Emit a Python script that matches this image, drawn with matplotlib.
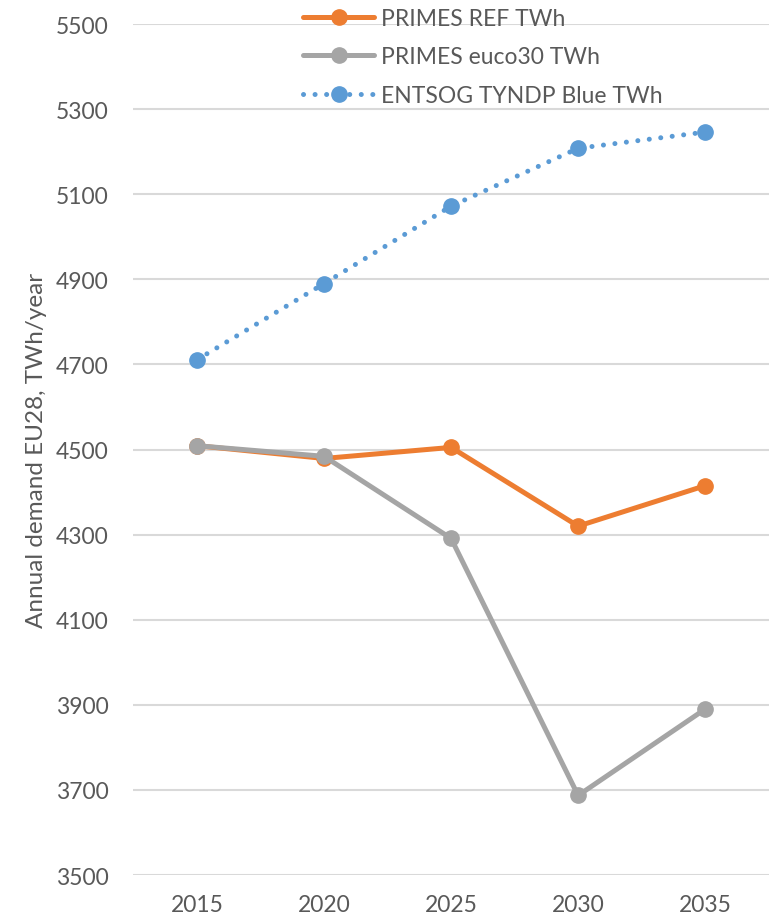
import matplotlib.pyplot as plt

years = ['2015', '2020', '2025', '2030', '2035']
primes_ref = [4509, 4479, 4505, 4320, 4415]
primes_euco30 = [4509, 4484, 4291, 3687, 3890]
entsog_blue = [4711, 4890, 5072, 5208, 5246]

labels = ['PRIMES REF TWh', 'PRIMES euco30 TWh', 'ENTSOG TYNDP Blue TWh']

TEXT = '#595959'
plt.rcParams['font.family'] = ['Lato', 'DejaVu Sans']

fig = plt.figure(figsize=(7.69, 9.2), dpi=100)
ax = fig.add_axes([0.1736, 0.0478, 0.826, 0.925])

x = range(len(years))
ax.plot(x, primes_ref, color='#ED7D31', lw=3.6, marker='o', ms=11,
        solid_capstyle='round', label=labels[0], zorder=3)
ax.plot(x, primes_euco30, color='#A5A5A5', lw=3.6, marker='o', ms=11,
        solid_capstyle='round', label=labels[1], zorder=4)
ax.plot(x, entsog_blue, color='#5B9BD5', lw=3.6, ls=(0, (0.01, 2.3)),
        dash_capstyle='round', marker='o', ms=11, label=labels[2], zorder=3)

ax.set_xlim(-0.5, len(years) - 0.5)
ax.set_ylim(3500, 5500)
ax.set_yticks(range(3500, 5501, 200))
ax.set_xticks(list(x))
ax.set_xticklabels(years)
ax.grid(axis='y', color='#D9D9D9', lw=1.5)
ax.set_axisbelow(True)
for s in ax.spines.values():
    s.set_visible(False)
ax.tick_params(axis='both', length=0, labelsize=16.5, colors=TEXT)
ax.tick_params(axis='y', pad=18)
ax.tick_params(axis='x', pad=14)

ax.set_ylabel('Annual demand EU28, TWh/year', fontsize=17.5, color=TEXT, labelpad=6)

leg = ax.legend(loc='upper left', bbox_to_anchor=(303 / 769, 0.99), bbox_transform=fig.transFigure,
                frameon=False, fontsize=16.5, handlelength=3.1, handletextpad=0.3,
                labelspacing=0.75, borderpad=0, borderaxespad=0, numpoints=1)
for t in leg.get_texts():
    t.set_color(TEXT)

fig.savefig('out.png', dpi=100)
